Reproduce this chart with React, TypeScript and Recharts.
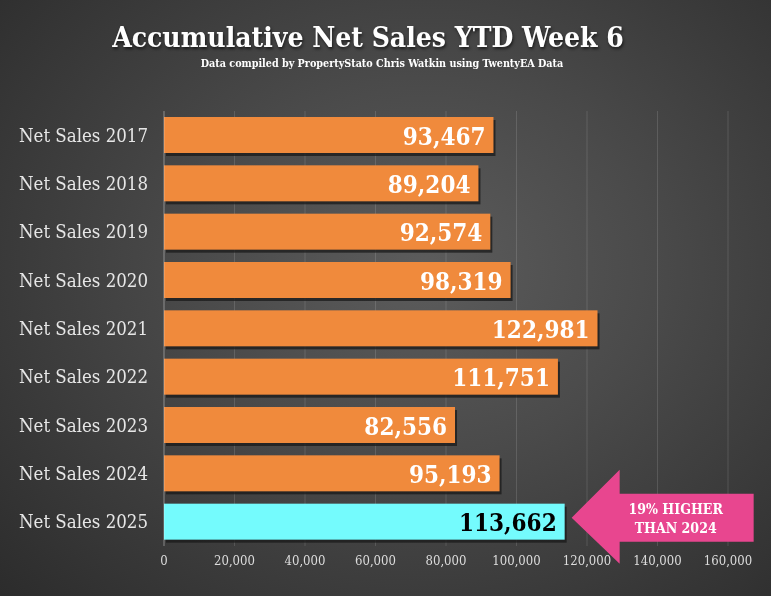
import React from 'react';
import { Bar, BarChart, CartesianGrid, Cell, LabelList, XAxis, YAxis } from 'recharts';

const categories = [
  'Net Sales 2017',
  'Net Sales 2018',
  'Net Sales 2019',
  'Net Sales 2020',
  'Net Sales 2021',
  'Net Sales 2022',
  'Net Sales 2023',
  'Net Sales 2024',
  'Net Sales 2025',
];
const netSales = [93467, 89204, 92574, 98319, 122981, 111751, 82556, 95193, 113662];
const xTicks = [0, 20000, 40000, 60000, 80000, 100000, 120000, 140000, 160000];
const highlightCategory = 'Net Sales 2025';
const calloutLines = ['19% HIGHER', 'THAN 2024'];

const chartData = categories.map((name, i) => ({
  name,
  value: netSales[i],
  callout: name === highlightCategory ? calloutLines.join('|') : undefined,
}));

const ORANGE = '#f08a3c';
const CYAN = '#74fbfd';
const SLAB = '"DejaVu Serif Condensed", "DejaVu Serif", serif';

function ShadowBar(props: any) {
  const { x, y, width, height, fill } = props;
  if (!width || width <= 0) return null;
  return (
    <g>
      <rect x={x + 2} y={y + 3} width={width} height={height} fill="#1a1a1a" opacity={0.75} />
      <rect x={x} y={y} width={width} height={height} fill={fill} />
    </g>
  );
}

function ValueLabel(props: any) {
  const box = props.viewBox ?? props;
  const { x, y, width, height } = box;
  const isHighlight = props.value === netSales[netSales.length - 1];
  return (
    <text
      x={x + width - 8}
      y={y + height / 2 + 1}
      textAnchor="end"
      dominantBaseline="central"
      fill={isHighlight ? '#000' : '#fff'}
      fontFamily={SLAB}
      fontWeight={700}
      fontSize={24}
    >
      {Number(props.value).toLocaleString('en-US')}
    </text>
  );
}

function CalloutArrow(props: any) {
  if (!props.value) return null;
  const box = props.viewBox ?? props;
  const { x, y, width, height } = box;
  const tx = x + width + 7;
  const cy = y + height / 2 - 4;
  const pts = [
    [tx, cy],
    [tx + 48, cy - 48],
    [tx + 48, cy - 24],
    [tx + 182, cy - 24],
    [tx + 182, cy + 24],
    [tx + 48, cy + 24],
    [tx + 48, cy + 46],
  ]
    .map((p) => p.join(','))
    .join(' ');
  const lines = String(props.value).split('|');
  return (
    <g>
      <polygon points={pts} fill="#e8468f" />
      {lines.map((line, i) => (
        <text
          key={line}
          x={tx + 104}
          y={cy - 4 + i * 19}
          textAnchor="middle"
          fill="#fff"
          fontFamily={SLAB}
          fontWeight={700}
          fontSize={14}
        >
          {line}
        </text>
      ))}
    </g>
  );
}

export default function App() {
  return (
    <div
      style={{
        position: 'fixed',
        left: 0,
        top: 0,
        width: 771,
        height: 596,
        background:
          'radial-gradient(ellipse 75% 80% at 55% 45%, #5c5c5c 0%, #4a4a4a 40%, #2c2c2c 100%)',
        overflow: 'hidden',
      }}
    >
      <div
        style={{
          position: 'absolute',
          top: 21,
          left: 0,
          width: 736,
          textAlign: 'center',
          color: '#fff',
          fontFamily: SLAB,
          fontWeight: 900,
          fontSize: 28,
          textShadow: '1px 2px 3px rgba(0,0,0,0.6)',
          whiteSpace: 'nowrap',
        }}
      >
        Accumulative Net Sales YTD Week 6
      </div>
      <div
        style={{
          position: 'absolute',
          top: 57,
          left: 0,
          width: 764,
          textAlign: 'center',
          color: '#fff',
          fontFamily: SLAB,
          fontWeight: 700,
          fontSize: 10.7,
          whiteSpace: 'nowrap',
        }}
      >
        Data compiled by PropertyStato Chris Watkin using TwentyEA Data
      </div>
      <div style={{ position: 'absolute', left: 0, top: 0 }}>
        <BarChart
          width={771}
          height={596}
          data={chartData}
          layout="vertical"
          margin={{ top: 111, right: 43, bottom: 20, left: 0 }}
        >
          <CartesianGrid horizontal={false} stroke="rgba(255,255,255,0.13)" />
          <XAxis
            type="number"
            domain={[0, 160000]}
            ticks={xTicks}
            tickFormatter={(v: number) => v.toLocaleString('en-US')}
            axisLine={false}
            tickLine={false}
            tickSize={0}
            tickMargin={10}
            height={30}
            tick={{ fill: '#dcdcdc', fontSize: 13, fontFamily: SLAB }}
            interval={0}
          />
          <YAxis
            type="category"
            dataKey="name"
            width={164}
            axisLine={{ stroke: 'rgba(255,255,255,0.3)' }}
            tickLine={false}
            tickSize={0}
            tickMargin={16}
            tick={{ fill: '#e6e6e6', fontSize: 18.5, fontFamily: SLAB }}
            interval={0}
          />
          <Bar dataKey="value" barSize={36} shape={ShadowBar} isAnimationActive={false}>
            {chartData.map((d) => (
              <Cell key={d.name} fill={d.name === highlightCategory ? CYAN : ORANGE} />
            ))}
            <LabelList dataKey="value" content={ValueLabel} />
            <LabelList dataKey="callout" content={CalloutArrow} />
          </Bar>
        </BarChart>
      </div>
    </div>
  );
}
